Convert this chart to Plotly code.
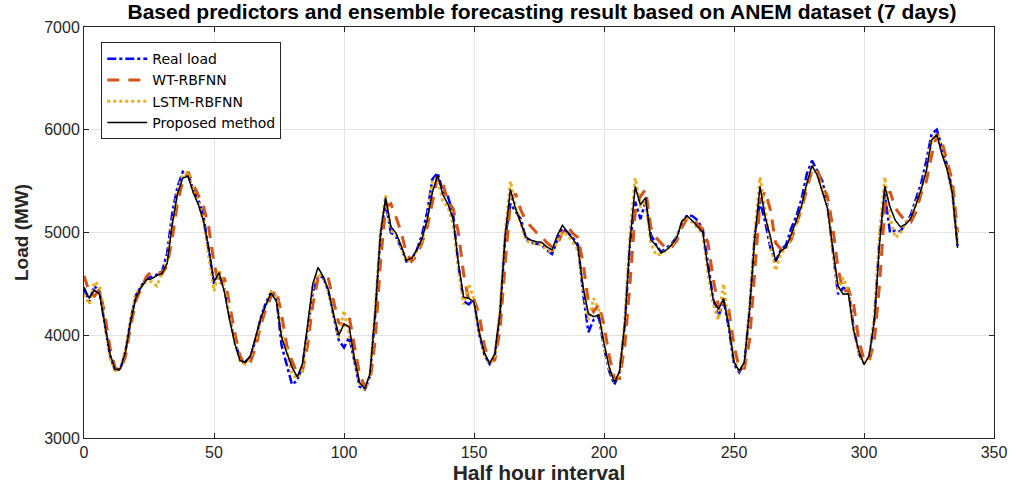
import plotly.graph_objects as go

x_interval = list(range(0, 337, 2))

real_load = [4450, 4330, 4480, 4420, 4100, 3800, 3655, 3670, 3850, 4160, 4390, 4480, 4550, 4570, 4590, 4620, 4800, 5200, 5450, 5590,
             5560, 5420, 5320, 5150, 4830, 4500, 4580, 4450, 4180, 3950, 3770, 3740, 3790, 3960, 4170, 4320, 4420, 4360, 3900, 3700,
             3520, 3560, 3700, 4060, 4420, 4580, 4560, 4430, 4180, 3950, 3880, 3980, 3750, 3500, 3470, 3600, 4200, 4950, 5300, 5000,
             4960, 4850, 4720, 4740, 4830, 4980, 5200, 5520, 5580, 5400, 5350, 5170, 4680, 4330, 4300, 4350, 4010, 3810, 3720, 3800,
             4200, 4950, 5280, 5200, 5130, 4940, 4900, 4890, 4880, 4830, 4790, 4920, 5040, 5000, 4950, 4880, 4400, 4030, 4150, 4180,
             3880, 3650, 3520, 3640, 4100, 4900, 5300, 5130, 5300, 4980, 4880, 4810, 4850, 4890, 4960, 5100, 5170, 5160, 5120, 5030,
             4700, 4350, 4180, 4340, 4070, 3720, 3640, 3730, 4250, 4980, 5300, 5100, 4850, 4720, 4830, 4880, 5040, 5160, 5330, 5570,
             5700, 5600, 5500, 5260, 4800, 4400, 4460, 4450, 4080, 3820, 3730, 3790, 4150, 4950, 5380, 5000, 5020, 5010, 5090, 5170,
             5330, 5480, 5700, 5960, 6000, 5820, 5650, 5400, 4870]

wt_rbfnn = [4580, 4420, 4380, 4450, 4200, 3880, 3680, 3660, 3800, 4100, 4340, 4450, 4570, 4620, 4620, 4600, 4680, 4950, 5300, 5500,
            5590, 5470, 5360, 5250, 5050, 4700, 4480, 4560, 4300, 4020, 3800, 3700, 3740, 3880, 4100, 4260, 4380, 4440, 4200, 3900,
            3750, 3630, 3650, 3900, 4300, 4550, 4570, 4550, 4330, 4120, 4100, 4180, 3900, 3620, 3500, 3550, 3950, 4700, 5250, 5280,
            5150, 5000, 4800, 4720, 4780, 4900, 5050, 5300, 5540, 5480, 5300, 5230, 5000, 4600, 4330, 4350, 4200, 3900, 3740, 3760,
            4050, 4700, 5300, 5380, 5220, 5110, 5050, 5000, 4960, 4900, 4860, 4880, 5000, 5060, 4990, 4950, 4700, 4320, 4230, 4300,
            4100, 3800, 3580, 3580, 3900, 4500, 5200, 5350, 5420, 5050, 4950, 4900, 4840, 4860, 4920, 5050, 5140, 5130, 5080, 5030,
            4900, 4550, 4280, 4320, 4250, 3900, 3680, 3680, 3950, 4600, 5300, 5400, 5220, 4900, 4840, 4860, 4930, 5080, 5230, 5420,
            5610, 5620, 5450, 5350, 5050, 4650, 4420, 4450, 4300, 3950, 3760, 3750, 3950, 4500, 5250, 5400, 5240, 5170, 5110, 5100,
            5200, 5380, 5500, 5750, 5960, 5880, 5700, 5500, 5000]

lstm_rbfnn = [4400, 4300, 4520, 4480, 4100, 3780, 3660, 3680, 3860, 4170, 4400, 4480, 4520, 4520, 4480, 4600, 4720, 5100, 5400, 5560,
              5590, 5400, 5300, 5100, 4780, 4430, 4640, 4460, 4180, 3920, 3750, 3720, 3780, 3950, 4160, 4300, 4420, 4380, 4000, 3850,
              3620, 3580, 3660, 4050, 4480, 4600, 4560, 4420, 4200, 3980, 4240, 4000, 3760, 3530, 3470, 3620, 4250, 5000, 5360, 5020,
              4980, 4840, 4720, 4740, 4820, 4930, 5100, 5510, 5530, 5300, 5250, 5080, 4650, 4300, 4500, 4350, 4020, 3820, 3720, 3800,
              4250, 5000, 5500, 5250, 5080, 4920, 4900, 4890, 4880, 4840, 4800, 4920, 5000, 4980, 4910, 4830, 4450, 4150, 4360, 4250,
              3900, 3680, 3560, 3620, 4150, 5000, 5530, 5250, 5300, 4900, 4780, 4790, 4830, 4870, 4950, 5100, 5140, 5100, 5040, 4990,
              4600, 4300, 4150, 4500, 4100, 3750, 3660, 3720, 4280, 5000, 5540, 5200, 4900, 4630, 4800, 4840, 4960, 5100, 5250, 5470,
              5640, 5570, 5420, 5250, 4800, 4450, 4560, 4420, 4050, 3820, 3730, 3790, 4200, 5000, 5540, 5150, 4950, 4990, 5100, 5140,
              5280, 5420, 5600, 5900, 5950, 5780, 5620, 5360, 4900]

proposed = [4470, 4360, 4440, 4400, 4113, 3820, 3665, 3675, 3840, 4140, 4370, 4465, 4540, 4550, 4580, 4600, 4700, 5090, 5380, 5530,
            5550, 5390, 5270, 5110, 4840, 4520, 4610, 4420, 4150, 3920, 3755, 3735, 3800, 3970, 4165, 4300, 4410, 4330, 3980, 3830,
            3690, 3595, 3720, 4100, 4500, 4660, 4570, 4440, 4200, 4000, 4110, 4080, 3780, 3540, 3480, 3625, 4220, 4980, 5340, 5060,
            4995, 4870, 4730, 4750, 4830, 4940, 5120, 5390, 5560, 5370, 5275, 5130, 4700, 4370, 4360, 4320, 4030, 3830, 3725, 3820,
            4210, 4970, 5420, 5230, 5090, 4955, 4925, 4910, 4905, 4860, 4830, 4970, 5070, 5010, 4940, 4860, 4460, 4210, 4180, 4200,
            3920, 3690, 3540, 3650, 4110, 4920, 5445, 5270, 5340, 4930, 4875, 4800, 4830, 4880, 4950, 5110, 5160, 5115, 5060, 5000,
            4650, 4350, 4250, 4360, 4090, 3740, 3650, 3740, 4250, 4950, 5450, 5150, 4960, 4720, 4820, 4855, 4980, 5110, 5260, 5480,
            5650, 5560, 5400, 5230, 4840, 4480, 4400, 4405, 4050, 3850, 3715, 3800, 4150, 4900, 5450, 5250, 5120, 5055, 5080, 5135,
            5270, 5420, 5600, 5900, 5950, 5760, 5610, 5380, 4850]

series_names = ["Real load", "WT-RBFNN", "LSTM-RBFNN", "Proposed method"]
x_ticks = [0, 50, 100, 150, 200, 250, 300, 350]
y_ticks = [3000, 4000, 5000, 6000, 7000]

FONT = "Liberation Sans, Arial, sans-serif"

fig = go.Figure()
fig.add_trace(go.Scatter(x=x_interval, y=real_load, mode="lines", name=series_names[0],
                         line=dict(color="#0000FF", width=2.5, dash="dashdot")))
fig.add_trace(go.Scatter(x=x_interval, y=wt_rbfnn, mode="lines", name=series_names[1],
                         line=dict(color="#D95319", width=3, dash="12px,9px")))
fig.add_trace(go.Scatter(x=x_interval, y=lstm_rbfnn, mode="lines", name=series_names[2],
                         line=dict(color="#EDB120", width=3, dash="dot")))
fig.add_trace(go.Scatter(x=x_interval, y=proposed, mode="lines", name=series_names[3],
                         line=dict(color="#000000", width=1.5)))

axis_common = dict(showline=True, linecolor="#262626", linewidth=1, mirror="ticks",
                   ticks="inside", ticklen=5, tickcolor="#262626", automargin=False,
                   showgrid=True, gridcolor="#E3E3E3", gridwidth=1, zeroline=False,
                   tickfont=dict(family=FONT, size=16, color="#262626"))

fig.update_xaxes(range=[0, 350], tickvals=x_ticks,
                 title=dict(text="<b>Half hour interval</b>", standoff=3,
                            font=dict(family=FONT, size=21, color="#262626")),
                 **axis_common)
fig.update_yaxes(range=[3000, 7000], tickvals=y_ticks,
                 title=dict(text="<b>Load (MW)</b>", standoff=10,
                            font=dict(family=FONT, size=19, color="#262626")),
                 **axis_common)

fig.update_layout(
    width=1013, height=491,
    margin=dict(l=84, r=19, t=27, b=53),
    paper_bgcolor="white", plot_bgcolor="white",
    title=dict(text="<b>Based predictors and ensemble forecasting result based on ANEM dataset (7 days)</b>",
               x=0.535, xanchor="center", y=0.992, yanchor="top",
               font=dict(family=FONT, size=21, color="#000000")),
    legend=dict(x=0.019, y=0.963, xanchor="left", yanchor="top",
                bgcolor="white", bordercolor="#262626", borderwidth=1,
                font=dict(family="DejaVu Sans, sans-serif", size=14, color="#000000"),
                tracegroupgap=0, itemwidth=40),
    showlegend=True,
)

fig.write_html("out.html", config={"displayModeBar": False},
               post_script="document.body.style.margin='0px';document.body.style.overflow='hidden';")
